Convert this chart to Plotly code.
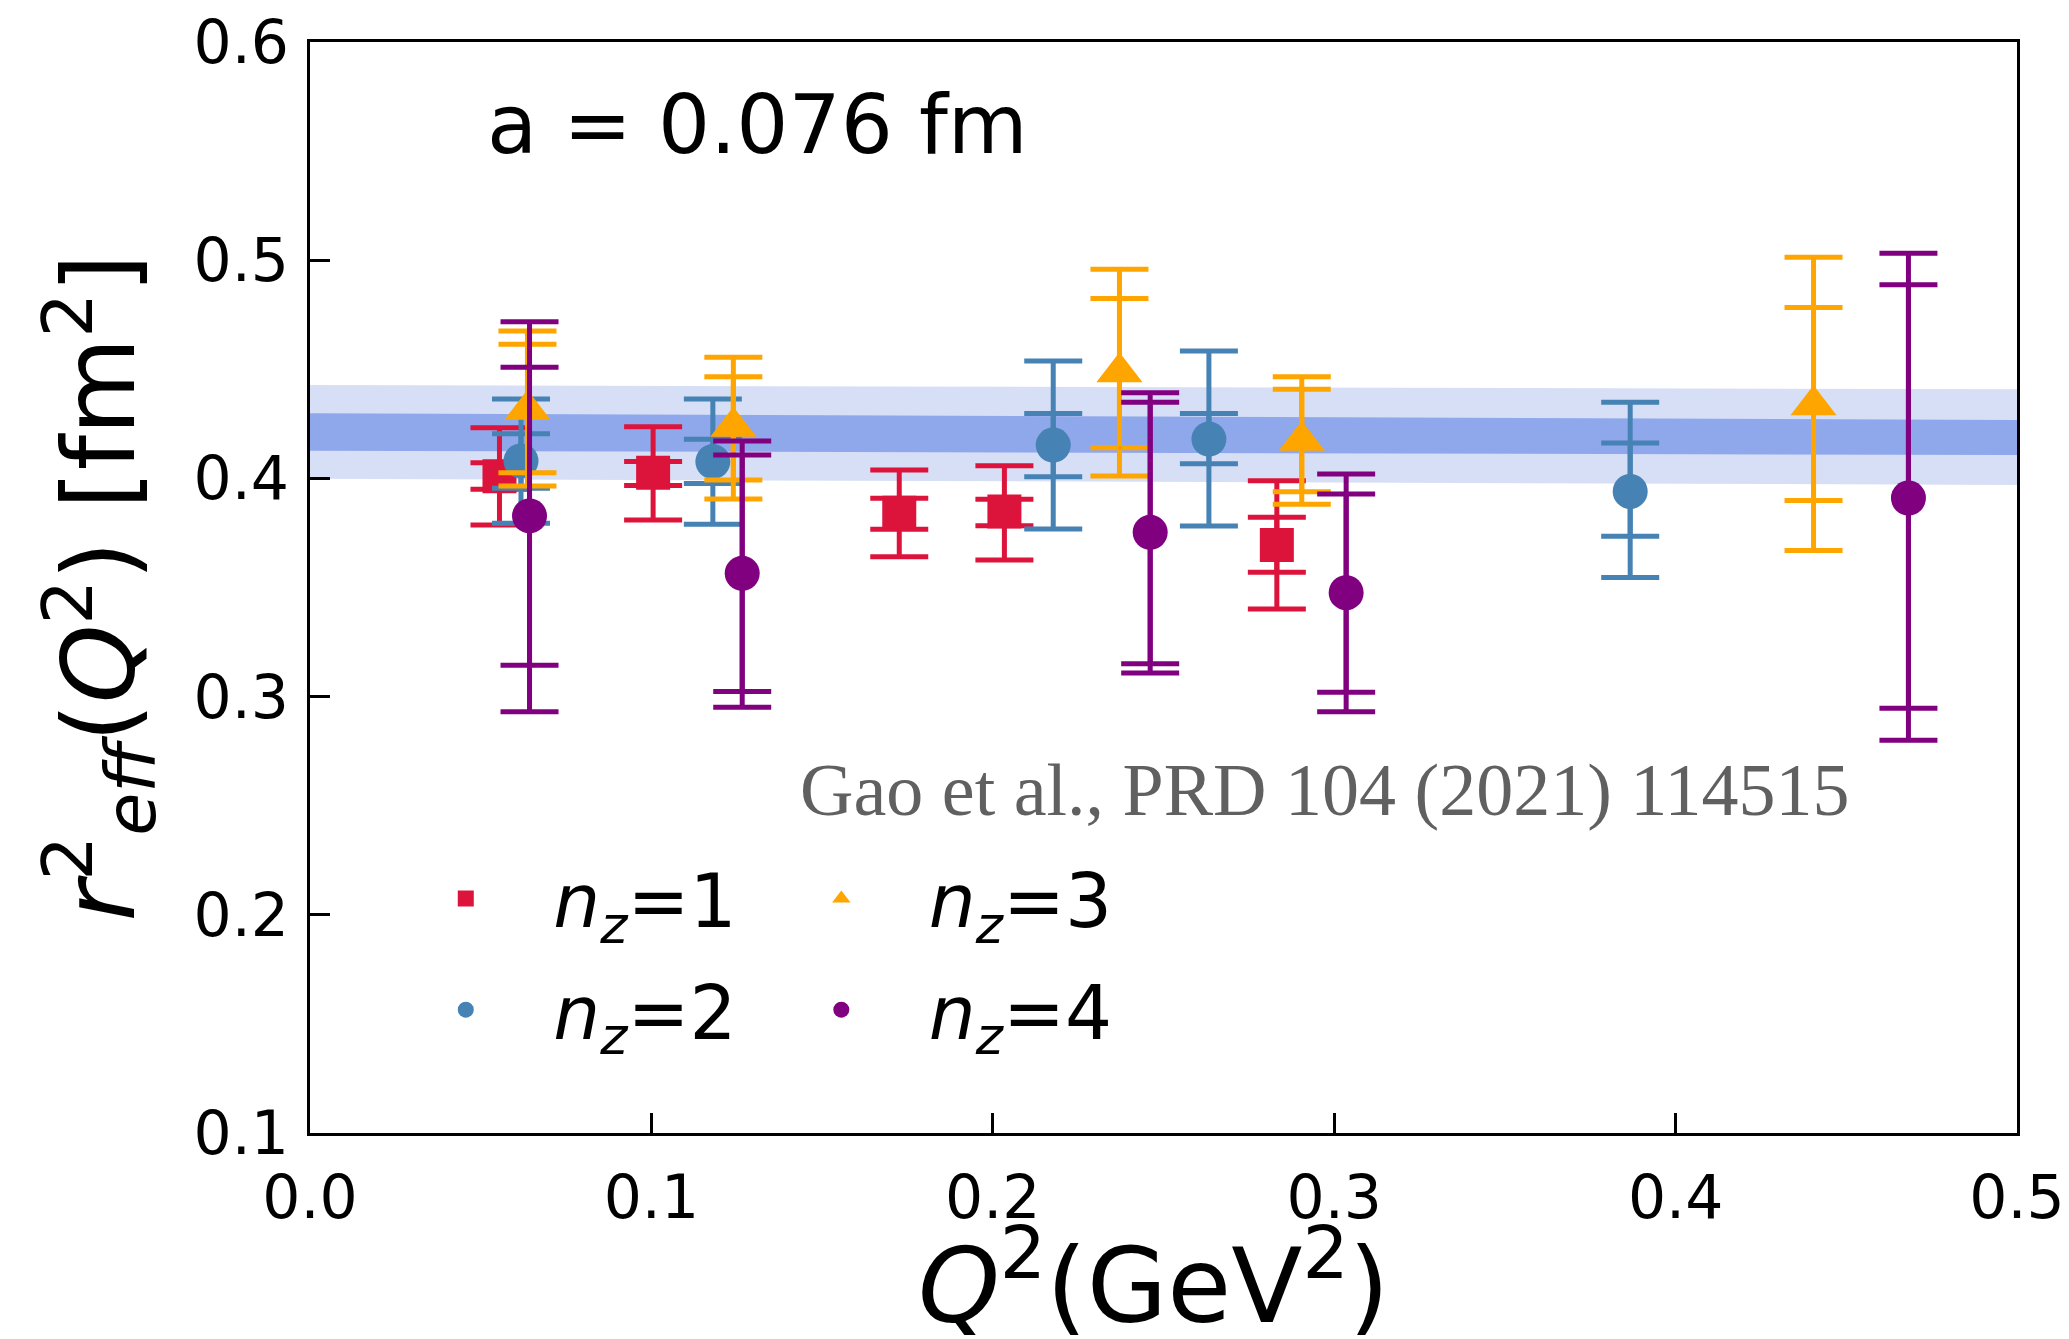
import plotly.graph_objects as go

# ---------------- data ----------------
band_x = [0.0, 0.5]
band_light_lo = [0.3998, 0.3970]
band_light_hi = [0.4428, 0.4408]
band_dark_lo = [0.4127, 0.4107]
band_dark_hi = [0.4299, 0.4268]

nz1_x = [0.0555, 0.1005, 0.1726, 0.2034, 0.2832]
nz1_y = [0.4010, 0.4026, 0.3843, 0.3848, 0.3695]
nz1_in_lo = [0.3950, 0.3967, 0.3767, 0.3783, 0.3570]
nz1_in_hi = [0.4072, 0.4077, 0.3909, 0.3904, 0.3822]
nz1_out_lo = [0.3786, 0.3809, 0.3641, 0.3626, 0.3401]
nz1_out_hi = [0.4232, 0.4237, 0.4038, 0.4058, 0.3989]

nz2_x = [0.0618, 0.1180, 0.2177, 0.2633, 0.3867]
nz2_y = [0.4080, 0.4077, 0.4153, 0.4180, 0.3940]
nz2_in_lo = [0.3955, 0.3977, 0.4008, 0.4067, 0.3735]
nz2_in_hi = [0.4205, 0.4179, 0.4298, 0.4297, 0.4162]
nz2_out_lo = [0.3794, 0.3790, 0.3768, 0.3782, 0.3546]
nz2_out_hi = [0.4364, 0.4364, 0.4538, 0.4584, 0.4349]

nz3_x = [0.0637, 0.1240, 0.2371, 0.2905, 0.4404]
nz3_y = [0.4315, 0.4237, 0.4487, 0.4172, 0.4335]
nz3_in_lo = [0.4026, 0.3993, 0.4141, 0.3939, 0.3899]
nz3_in_hi = [0.4615, 0.4466, 0.4825, 0.4408, 0.4783]
nz3_out_lo = [0.3965, 0.3906, 0.4011, 0.3881, 0.3670]
nz3_out_hi = [0.4676, 0.4555, 0.4958, 0.4466, 0.5014]

nz4_x = [0.0643, 0.1266, 0.2461, 0.3035, 0.4682]
nz4_y = [0.3828, 0.3565, 0.3753, 0.3476, 0.3910]
nz4_in_lo = [0.3144, 0.3023, 0.3151, 0.3020, 0.2947]
nz4_in_hi = [0.4509, 0.4107, 0.4349, 0.3928, 0.4888]
nz4_out_lo = [0.2930, 0.2951, 0.3108, 0.2931, 0.2800]
nz4_out_hi = [0.4718, 0.4171, 0.4393, 0.4020, 0.5032]

series_names = ["<i>n</i><sub><i>z</i></sub>=1", "<i>n</i><sub><i>z</i></sub>=2",
                "<i>n</i><sub><i>z</i></sub>=3", "<i>n</i><sub><i>z</i></sub>=4"]
x_ticks = [0.0, 0.1, 0.2, 0.3, 0.4, 0.5]
y_ticks = [0.1, 0.2, 0.3, 0.4, 0.5, 0.6]

# ---------------- styles ----------------
colors = ["#DC143C", "#4682B4", "#FFA500", "#800080"]
symbols = ["square", "circle", "triangle-up", "circle"]
msizes = [34, 35, 40, 35]
legends = ["legend", "legend", "legend2", "legend2"]
LIGHT = "#D7DFF7"
DARK = "#8FA7EB"
FONT = "DejaVu Sans"

fig = go.Figure()

# fit bands
fig.add_trace(go.Scatter(x=band_x, y=band_light_lo, mode="lines", line=dict(width=0, color=LIGHT),
                         showlegend=False, hoverinfo="skip"))
fig.add_trace(go.Scatter(x=band_x, y=band_light_hi, mode="lines", line=dict(width=0, color=LIGHT),
                         fill="tonexty", fillcolor=LIGHT, showlegend=False, hoverinfo="skip"))
fig.add_trace(go.Scatter(x=band_x, y=band_dark_lo, mode="lines", line=dict(width=0, color=DARK),
                         showlegend=False, hoverinfo="skip"))
fig.add_trace(go.Scatter(x=band_x, y=band_dark_hi, mode="lines", line=dict(width=0, color=DARK),
                         fill="tonexty", fillcolor=DARK, showlegend=False, hoverinfo="skip"))

data = [
    (nz1_x, nz1_y, nz1_in_lo, nz1_in_hi, nz1_out_lo, nz1_out_hi),
    (nz2_x, nz2_y, nz2_in_lo, nz2_in_hi, nz2_out_lo, nz2_out_hi),
    (nz3_x, nz3_y, nz3_in_lo, nz3_in_hi, nz3_out_lo, nz3_out_hi),
    (nz4_x, nz4_y, nz4_in_lo, nz4_in_hi, nz4_out_lo, nz4_out_hi),
]

CAP = 29
THICK = 5
for i, (xs, ys, ilo, ihi, olo, ohi) in enumerate(data):
    c = colors[i]
    # inner (statistical) error bars
    fig.add_trace(go.Scatter(
        x=xs, y=ys, mode="markers",
        marker=dict(size=2, color=c, opacity=0),
        error_y=dict(type="data", symmetric=False,
                     array=[h - v for h, v in zip(ihi, ys)],
                     arrayminus=[v - l for l, v in zip(ilo, ys)],
                     color=c, thickness=THICK, width=CAP),
        showlegend=False, hoverinfo="skip"))
    # outer (total) error bars with markers
    fig.add_trace(go.Scatter(
        x=xs, y=ys, mode="markers", name=series_names[i],
        marker=dict(size=msizes[i], color=c, symbol=symbols[i], line=dict(width=0)),
        error_y=dict(type="data", symmetric=False,
                     array=[h - v for h, v in zip(ohi, ys)],
                     arrayminus=[v - l for l, v in zip(olo, ys)],
                     color=c, thickness=THICK, width=CAP),
        legend=legends[i], legendgroup=f"g{i}"))

axis_common = dict(
    showgrid=False, zeroline=False, showline=True, linecolor="black", linewidth=3,
    mirror=True, ticks="inside", ticklen=20, tickwidth=2.5, tickcolor="black",
    tickfont=dict(family=FONT, size=60, color="black"), automargin=False,
)

fig.update_xaxes(range=[0.0, 0.5], tickvals=x_ticks, tickformat=".1f",
                 ticklabelstandoff=10, **axis_common)
fig.update_yaxes(range=[0.1, 0.6], tickvals=y_ticks, tickformat=".1f",
                 ticklabelstandoff=6, **axis_common)

legend_common = dict(
    orientation="v", xanchor="left", yanchor="top",
    font=dict(family=FONT, size=74, color="black"),
    bgcolor="rgba(0,0,0,0)", borderwidth=0, itemwidth=165,
    tracegroupgap=12, traceorder="grouped",
)

fig.update_layout(
    width=2069, height=1339,
    margin=dict(l=310, r=52, t=42, b=206, autoexpand=False),
    plot_bgcolor="white", paper_bgcolor="white",
    showlegend=True,
    legend=dict(x=0.040, y=0.265, **legend_common),
    legend2=dict(x=0.260, y=0.265, **legend_common),
    annotations=[
        dict(text="a = 0.076 fm", xref="paper", yref="paper", x=0.1025, y=0.924,
             xanchor="left", yanchor="middle", showarrow=False,
             font=dict(family=FONT, size=82, color="black")),
        dict(text="Gao et al., PRD 104 (2021) 114515", xref="paper", yref="paper",
             x=0.286, y=0.314, xanchor="left", yanchor="middle", showarrow=False,
             font=dict(family="Liberation Serif", size=74, color="#606060")),
        dict(text="<i>Q</i><sup>2</sup>(GeV<sup>2</sup>)", xref="paper", yref="paper",
             x=0.494, y=-0.133, xanchor="center", yanchor="middle", showarrow=False,
             font=dict(family=FONT, size=104, color="black")),
        dict(text="<i>r</i><sup>2</sup><sub><i>eff</i></sub>(<i>Q</i><sup>2</sup>) [fm<sup>2</sup>]",
             xref="paper", yref="paper", x=-0.1236, y=0.5, textangle=-90,
             xanchor="center", yanchor="middle", showarrow=False,
             font=dict(family=FONT, size=100, color="black")),
    ],
)

fig.write_html("out.html")
